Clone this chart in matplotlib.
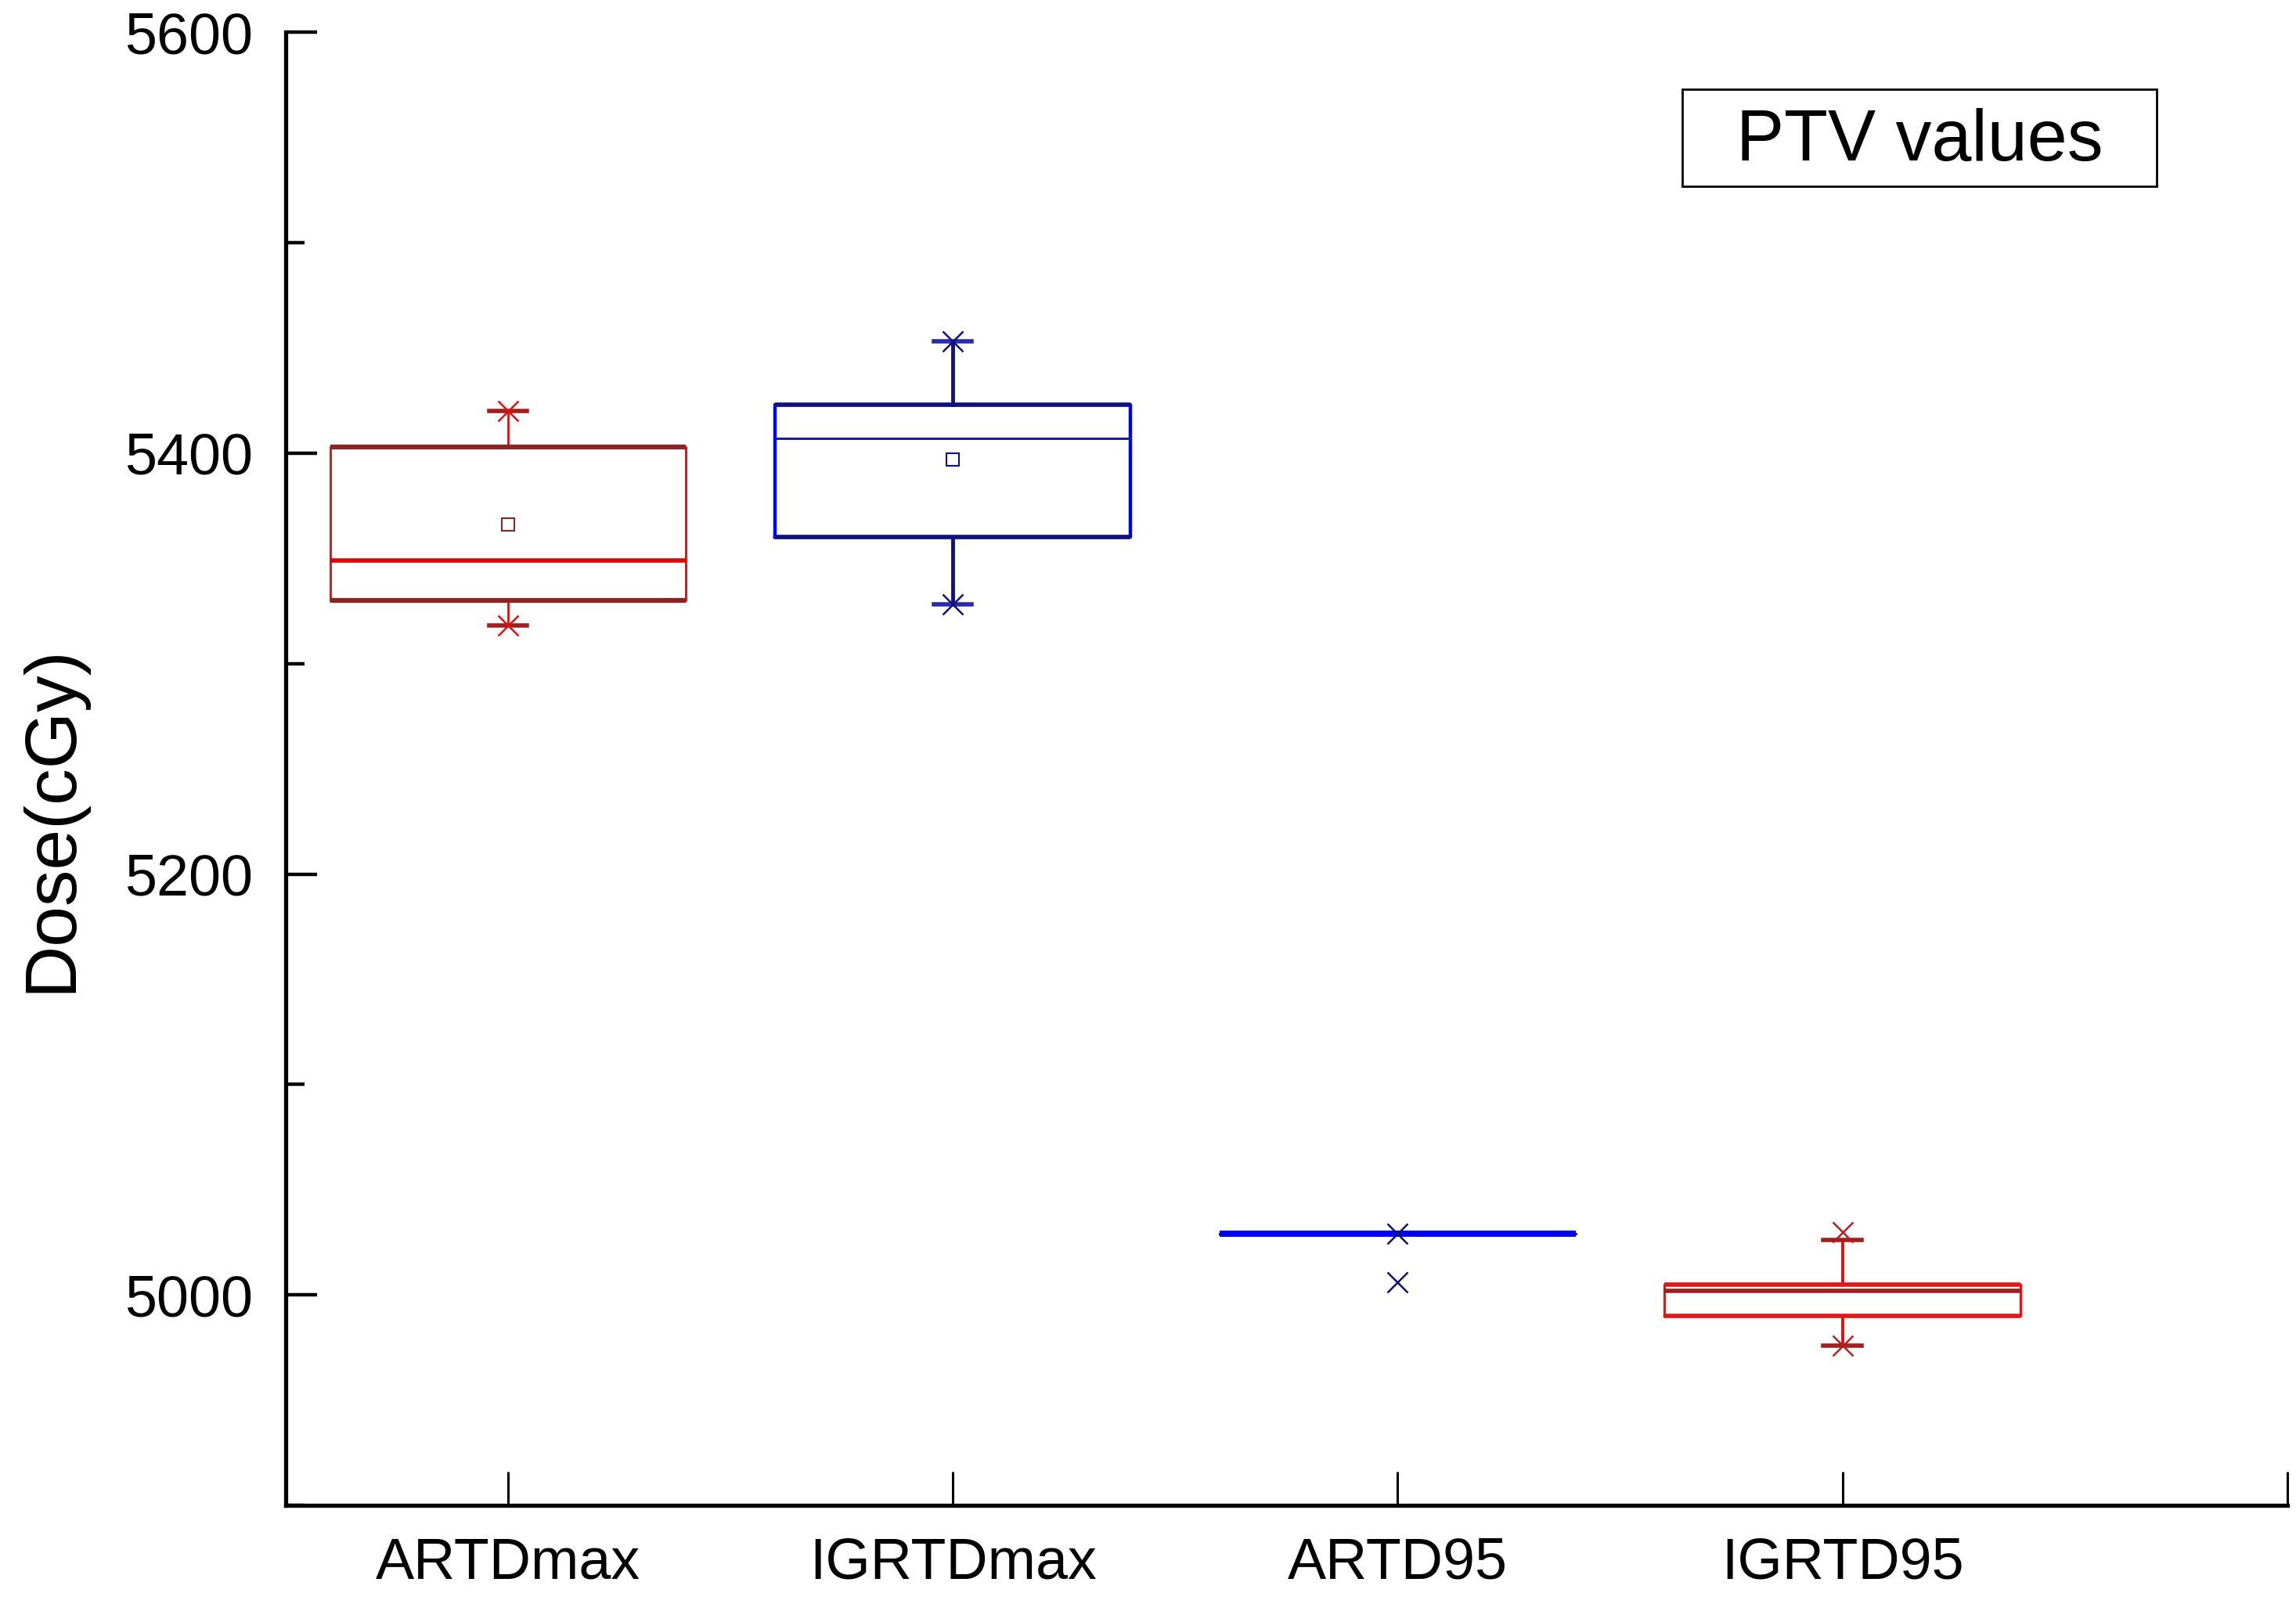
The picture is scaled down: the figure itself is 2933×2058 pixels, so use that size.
import numpy as np
import matplotlib.pyplot as plt

plt.rcParams['font.family'] = ['Liberation Sans', 'DejaVu Sans']

# groups and box statistics (cGy)
labels = ['ARTDmax', 'IGRTDmax', 'ARTD95', 'IGRTD95']
q1 = [5330, 5360, 5029, 4990]
med = [5349, 5407, 5029, 5002]
q3 = [5403, 5423, 5029, 5005]
whislo = [5318, 5328, 5029, 4976]
whishi = [5420, 5453, 5029, 5026]
means = [5366, 5397, np.nan, np.nan]
# min / max points drawn as crosses
pt_max = [5420, 5453, 5029, 5030]
pt_min = [5318, 5328, 5006, 4976]

# styles per box
styles = [
    dict(side='#e01818', sidelw=2.2, edge='#8b2525', edgelw=4.5, med='#e00000', medlw=4.0,
         whisk='#d81010', whisklw=2.0, cap='#a02020', mark='#e01010'),
    dict(side='#0000f0', sidelw=3.2, edge='#10107a', edgelw=4.0, med='#1a1a9a', medlw=2.2,
         whisk='#10107a', whisklw=3.5, cap='#2a2ab0', mark='#10107a'),
    dict(side='#0000e8', sidelw=2.0, edge='#0000e8', edgelw=5.5, med='#0000e8', medlw=5.5,
         whisk='#0000e8', whisklw=2.0, cap='#0000e8', mark='#101070'),
    dict(side='#e01818', sidelw=2.4, edge='#e01818', edgelw=4.0, med='#9a2020', medlw=4.0,
         whisk='#e01010', whisklw=2.8, cap='#a02020', mark='#b02020'),
]

fig = plt.figure(figsize=(29.33, 20.58), dpi=100)
ax = fig.add_axes([0.1244, 0.0655, 0.8718, 0.9145])

positions = np.arange(1, len(labels) + 1)
w = 0.8
for i, pos in enumerate(positions):
    st = styles[i]
    stats = [dict(med=med[i], q1=q1[i], q3=q3[i], whislo=whislo[i], whishi=whishi[i],
                  fliers=[], label=labels[i])]
    ax.bxp(stats, positions=[pos], widths=w, showfliers=False, showmeans=False,
           manage_ticks=False, capwidths=0.085,
           boxprops=dict(color=st['side'], linewidth=st['sidelw']),
           medianprops=dict(color=st['med'], linewidth=st['medlw']),
           whiskerprops=dict(color=st['whisk'], linewidth=st['whisklw']),
           capprops=dict(color=st['cap'], linewidth=4.0))
    # thicker top / bottom box edges
    ax.hlines([q1[i], q3[i]], pos - w / 2, pos + w / 2, colors=st['edge'],
              linewidth=st['edgelw'], zorder=3)
    if not np.isnan(means[i]):
        ax.plot(pos, means[i], marker='s', ms=12, mfc='none', mec=st['edge'],
                mew=1.5, zorder=4)
    ax.plot([pos, pos], [pt_max[i], pt_min[i]], linestyle='none', marker='x',
            ms=19, mew=1.8, color=st['mark'], zorder=5)

ax.set_xlim(0.5, 5)
ax.set_ylim(4900, 5600)
ax.set_xticks(list(positions) + [5])
ax.set_xticklabels(labels + [''], fontsize=53)
ax.set_yticks([5000, 5200, 5400, 5600])
ax.set_yticks([4900, 5100, 5300, 5500], minor=True)
ax.tick_params(axis='y', which='major', direction='in', length=29, width=3.2,
               labelsize=53, pad=30)
ax.tick_params(axis='y', which='minor', direction='in', length=17, width=3.2)
ax.tick_params(axis='x', which='major', direction='in', length=31, width=2.2,
               pad=28)

for s in ['top', 'right']:
    ax.spines[s].set_visible(False)
for s in ['left', 'bottom']:
    ax.spines[s].set_linewidth(3.8)

ax.set_ylabel('Dose(cGy)', fontsize=67)
ax.yaxis.set_label_coords(-0.100, 0.466)

# legend-like title box
fig.patches.append(plt.Rectangle((0.7328, 0.8845), 0.2066, 0.06, transform=fig.transFigure,
                                 fill=False, edgecolor='black', linewidth=2.0))
fig.text(0.836, 0.912, 'PTV values', fontsize=66, ha='center', va='center')

fig.savefig('out.png', dpi=100)
